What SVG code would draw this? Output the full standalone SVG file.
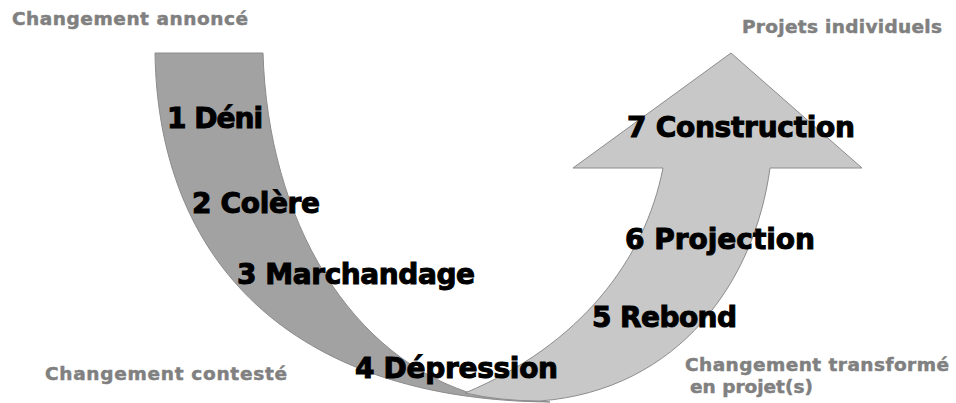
<svg xmlns="http://www.w3.org/2000/svg" width="956" height="403" viewBox="0 0 956 403">
<style>
.band{stroke:#8c8c8c;stroke-width:1;stroke-linejoin:miter}
.dark{fill:#a2a2a2}
.light{fill:#c8c8c8}
.stage{font-family:"DejaVu Sans","Liberation Sans",sans-serif;font-weight:bold;font-size:28px;fill:#000;stroke:#000;stroke-width:1}
.note{font-family:"DejaVu Sans","Liberation Sans",sans-serif;font-weight:bold;font-size:18.5px;fill:#808080;stroke:#808080;stroke-width:0.5}
</style>
<rect width="956" height="403" fill="#fff"/>
<g id="bands">
  <path id="band-descent" class="band dark" d="M155,53 L263,53 C268,220 350,360 480,396 L550,402 C290,400 158,260 155,53 Z"/>
  <path id="band-ascent" class="band light" d="M465,393 C580,345 645,260 663,168 L573,168 L731,53 L862,168 L770,168 C755,280 680,390 540,401 Q500,401 465,393 Z"/>
</g>
<g id="stage-1"><text class="stage" x="167" y="128" textLength="96">1 Déni</text></g>
<g id="stage-2"><text class="stage" x="192" y="213" textLength="128">2 Colère</text></g>
<g id="stage-3"><text class="stage" x="237" y="284" textLength="238">3 Marchandage</text></g>
<g id="stage-4"><text class="stage" x="355" y="378" textLength="203">4 Dépression</text></g>
<g id="stage-5"><text class="stage" x="592" y="327" textLength="145">5 Rebond</text></g>
<g id="stage-6"><text class="stage" x="625" y="249" textLength="190">6 Projection</text></g>
<g id="stage-7"><text class="stage" x="627" y="137" textLength="228">7 Construction</text></g>
<g id="note-announced"><text class="note" x="12" y="25" textLength="236">Changement annoncé</text></g>
<g id="note-contested"><text class="note" x="45" y="380" textLength="242">Changement contesté</text></g>
<g id="note-transformed"><text class="note" x="685" y="371" textLength="264">Changement transformé</text><text class="note" x="690" y="393">en projet(s)</text></g>
<g id="note-projects"><text class="note" x="742" y="33" textLength="200">Projets individuels</text></g>
<g id="connectors"/>
</svg>
